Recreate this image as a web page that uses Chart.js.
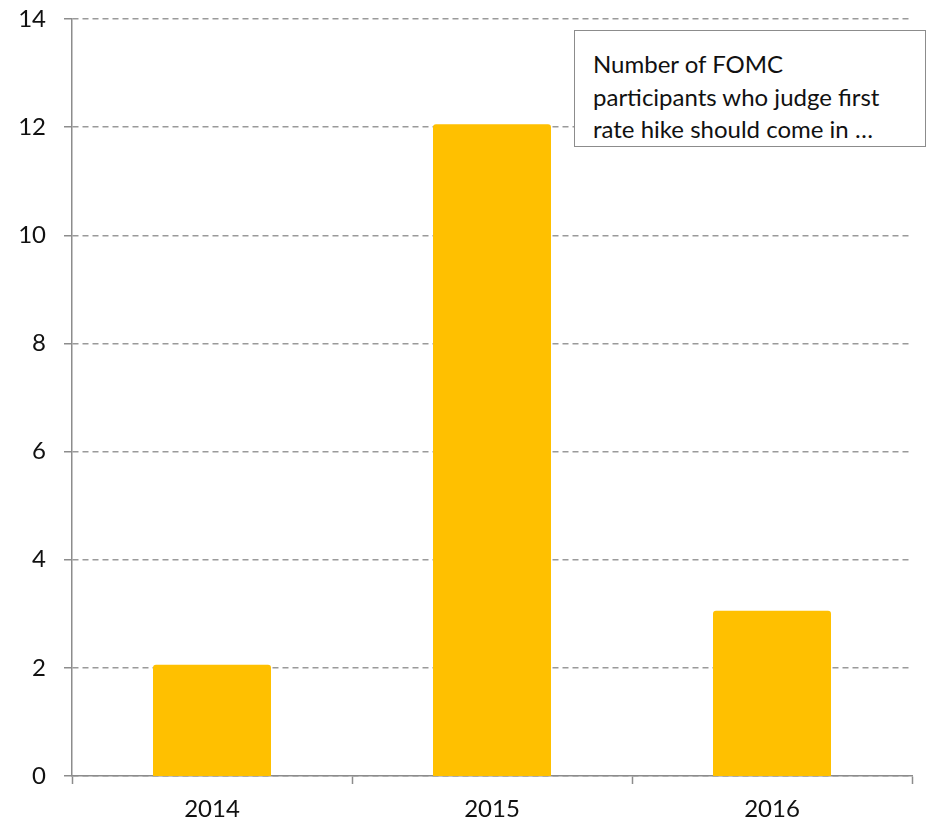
<!DOCTYPE html>
<html>
<head>
<meta charset="utf-8">
<script src="https://cdn.jsdelivr.net/npm/chart.js@4"></script>
<style>
    html, body { margin: 0; padding: 0; background: #fff; }
    #wrap { position: relative; width: 926px; height: 826px; }
    #note {
        position: absolute; left: 574px; top: 30px; width: 352px; height: 117px;
        border: 1.5px solid #8c8c8c; background: #fff; box-sizing: border-box;
        font-family: Lato, sans-serif; font-size: 24px; line-height: 32.5px;
        color: #111; padding: 17px 0 0 18px;
    }
</style>
</head>
<body>
<div id="wrap">
    <canvas id="chart" width="926" height="826"></canvas>
    <div id="note">Number of FOMC<br>participants who judge first<br>rate hike should come in …</div>
</div>
<script>
const years = ['2014', '2015', '2016'];
const participants = [2, 12, 3];

const gold = '#FFC000';
const axisGrey = '#8c8c8c';

new Chart(document.getElementById('chart'), {
    type: 'bar',
    data: {
        labels: years,
        datasets: [{
            data: participants,
            backgroundColor: gold,
            borderRadius: 3,
            borderSkipped: false,
            inflateAmount: 3,
            barPercentage: 0.4,
            categoryPercentage: 1
        }]
    },
    options: {
        responsive: false,
        animation: false,
        layout: { padding: { top: 19, right: 14, left: 0, bottom: 0 } },
        plugins: {
            legend: { display: false },
            tooltip: { enabled: false }
        },
        scales: {
            x: {
                offset: true,
                grid: {
                    offset: true,
                    drawOnChartArea: false,
                    drawTicks: true,
                    tickLength: 8,
                    tickColor: axisGrey,
                    tickWidth: 1.5
                },
                border: { color: axisGrey, width: 1.5 },
                ticks: {
                    color: '#111',
                    padding: 11,
                    font: { family: 'Lato', size: 24 }
                },
                afterFit: function(scale) {
                    scale.height = 50;
                    scale.paddingLeft = 0;
                    scale.paddingRight = 0;
                }
            },
            y: {
                min: 0,
                max: 14,
                ticks: {
                    stepSize: 2,
                    color: '#111',
                    padding: 18,
                    font: { family: 'Lato', size: 24 }
                },
                grid: {
                    color: '#9a9a9a',
                    lineWidth: 1.5,
                    tickLength: 8,
                    tickColor: axisGrey,
                    tickWidth: 1.5,
                    tickBorderDash: []
                },
                border: { color: axisGrey, width: 1.5, dash: [6, 4] },
                afterFit: function(scale) {
                    scale.width = 72;
                    scale.paddingTop = 0;
                    scale.paddingBottom = 0;
                }
            }
        }
    }
});
</script>
</body>
</html>
